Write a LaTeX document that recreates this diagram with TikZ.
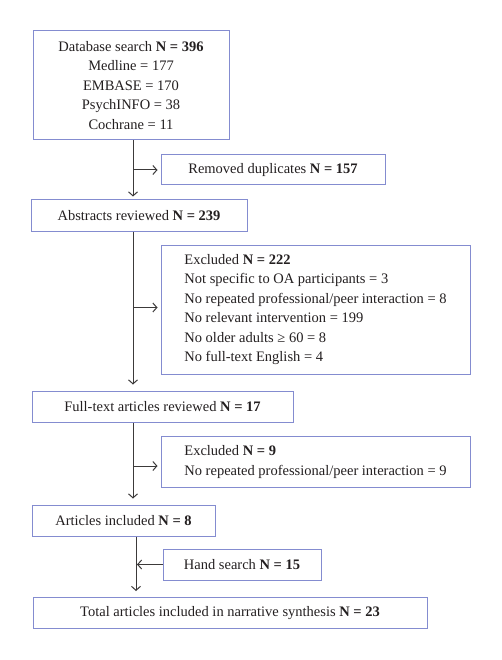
\documentclass[tikz,border=0pt]{standalone}
\usepackage{fontspec}
\setmainfont{Liberation Serif}
\usetikzlibrary{arrows.meta,calc}
\definecolor{boxblue}{RGB}{132,140,208}
\definecolor{linegrey}{RGB}{60,58,58}
\definecolor{txt}{RGB}{35,31,32}
\begin{document}
\begin{tikzpicture}[x=1pt,y=-1pt,
  box/.style={draw=boxblue,line width=1pt,inner sep=0pt,font=\fontsize{14.5}{19.5}\selectfont,text=txt,align=center},
  boxl/.style={box,align=left},
  flow/.style={draw=linegrey,line width=1pt,-{Straight Barb[length=4pt,width=9pt]}}]
\useasboundingbox[fill=white] (0,0) rectangle (501,660);
\node[box,minimum width=196pt,minimum height=109pt] (db) at (131,85.5)
  {Database search \textbf{N = 396}\\Medline = 177\\EMBASE = 170\\PsychINFO = 38\\Cochrane = 11};
\node[box,minimum width=224pt,minimum height=30pt] (rem) at (273,170)
  {Removed duplicates \textbf{N = 157}};
\node[box,minimum width=216pt,minimum height=31pt] (abs) at (139,215.5)
  {Abstracts reviewed \textbf{N = 239}};
\node[boxl,minimum width=309pt,minimum height=129pt] (exa) at (315.5,309.5)
  {Excluded \textbf{N = 222}\\Not specific to OA participants = 3\\No repeated professional/peer interaction = 8\\No relevant intervention = 199\\No older adults ≥ 60 = 8\\No full-text English = 4};
\node[box,minimum width=261pt,minimum height=31pt] (ft) at (162.5,406.5)
  {Full-text articles reviewed \textbf{N = 17}};
\node[boxl,minimum width=309pt,minimum height=50.6pt] (exb) at (315.5,462)
  {Excluded \textbf{N = 9}\\No repeated professional/peer interaction = 9};
\node[box,minimum width=183pt,minimum height=31pt] (art) at (123.5,520.5)
  {Articles included \textbf{N = 8}};
\node[box,minimum width=158pt,minimum height=31pt] (hand) at (242,564.5)
  {Hand search \textbf{N = 15}};
\node[box,minimum width=394pt,minimum height=31pt] (tot) at (230,613)
  {Total articles included in narrative synthesis \textbf{N = 23}};
% spine 1
\coordinate (s1) at ($(db.south)+(2,0)$);
\draw[flow,shorten >=3pt] (s1) -- (s1 |- abs.north);
\draw[flow,shorten >=3pt] (s1 |- rem.west) -- (rem.west);
% spine 2
\draw[flow,shorten >=6pt] (s1 |- abs.south) -- (s1 |- ft.north);
\draw[flow,shorten >=3pt] ($(s1 |- exa.west)+(0,-2)$) -- ($(exa.west)+(0,-2)$);
% spine 3
\draw[flow,shorten >=6pt] (s1 |- ft.south) -- (s1 |- art.north);
\draw[flow,shorten >=3pt] ($(s1 |- exb.west)+(0,4)$) -- ($(exb.west)+(0,4)$);
% spine 4
\coordinate (s4) at (136,0);
\draw[flow,shorten >=6pt] (s4 |- art.south) -- (s4 |- tot.north);
\draw[flow,shorten >=1pt] (hand.west) -- (s4 |- hand.west);
\end{tikzpicture}
\end{document}
